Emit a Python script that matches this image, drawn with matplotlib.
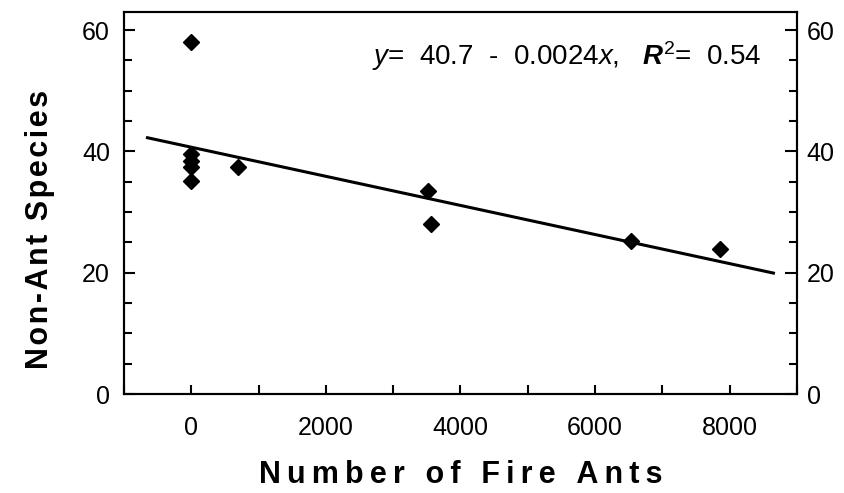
import matplotlib
matplotlib.use("Agg")
import matplotlib.pyplot as plt
import numpy as np
from matplotlib.ticker import MultipleLocator

plt.rcParams['font.family'] = ['Liberation Sans', 'DejaVu Sans']
plt.rcParams['mathtext.fontset'] = 'custom'
plt.rcParams['mathtext.rm'] = 'Liberation Sans'
plt.rcParams['mathtext.it'] = 'Liberation Sans:italic'
plt.rcParams['mathtext.bf'] = 'Liberation Sans:bold'
plt.rcParams['mathtext.bfit'] = 'Liberation Sans:bold:italic'

# Observed plots: fire ant counts vs. number of non-ant species
fire_ants = [0, 0, 0, 0, 0, 690, 3510, 3560, 6530, 7860]
non_ant_species = [58.0, 39.5, 38.5, 37.5, 35.1, 37.4, 33.4, 28.0, 25.2, 23.9]

# Fitted regression: y = 40.7 - 0.0024 x
intercept = 40.7
slope = -0.0024
fit_x_range = [-650, 8650]

x_ticks = [0, 2000, 4000, 6000, 8000]
y_ticks = [0, 20, 40, 60]

THIN = '\u2009'
HAIR = '\u200a'


def spaced(text, gap):
    """Insert a small gap between letters; widen the gaps between words."""
    words = text.split(' ')
    return (gap + ' ' + gap).join(gap.join(w) for w in words)


fig = plt.figure(figsize=(8.45, 4.93), dpi=100)
ax = fig.add_axes([0.1467, 0.2008, 0.7965, 0.7749])

fit_x = np.array(fit_x_range)
ax.plot(fit_x, intercept + slope * fit_x, color='black', lw=2.2, zorder=2)
ax.plot(fire_ants, non_ant_species, linestyle='none', marker='D',
        markersize=8, color='black', zorder=3)

ax.set_xlim(-1000, 9000)
ax.set_ylim(0, 63)
ax.set_xticks(x_ticks)
ax.xaxis.set_minor_locator(MultipleLocator(1000))
ax.set_yticks(y_ticks)
ax.yaxis.set_minor_locator(MultipleLocator(5))

for s in ax.spines.values():
    s.set_linewidth(1.5)

ax.tick_params(axis='x', which='both', direction='in', length=6.5, width=1.5,
               top=False, labelsize=18, pad=16)
ax.tick_params(axis='y', which='major', direction='in', length=8, width=1.5,
               labelsize=18, pad=10)
ax.tick_params(axis='y', which='minor', direction='in', length=5.5, width=1.5)

ax2 = ax.twinx()
ax2.set_ylim(ax.get_ylim())
ax2.set_yticks(y_ticks)
ax2.yaxis.set_minor_locator(MultipleLocator(5))
ax2.tick_params(axis='y', which='major', direction='in', length=9, width=1.5,
                labelsize=18, pad=7)
ax2.tick_params(axis='y', which='minor', direction='in', length=5.5, width=1.5)
for s in ax2.spines.values():
    s.set_linewidth(1.5)

ax.set_xlabel(spaced('Number of Fire Ants', THIN), fontsize=22,
              fontweight='bold', labelpad=14)
ax.set_ylabel(spaced('Non-Ant Species', HAIR), fontsize=22,
              fontweight='bold')
ax.yaxis.set_label_coords(-0.102, 0.43)

ax.text(0.947, 0.885,
        r'$\mathit{y}$=  40.7  -  0.0024$\mathit{x}$,   $\mathbfit{R}^{2}$=  0.54',
        transform=ax.transAxes, ha='right', va='center', fontsize=20)

fig.savefig('out.png', dpi=100)
